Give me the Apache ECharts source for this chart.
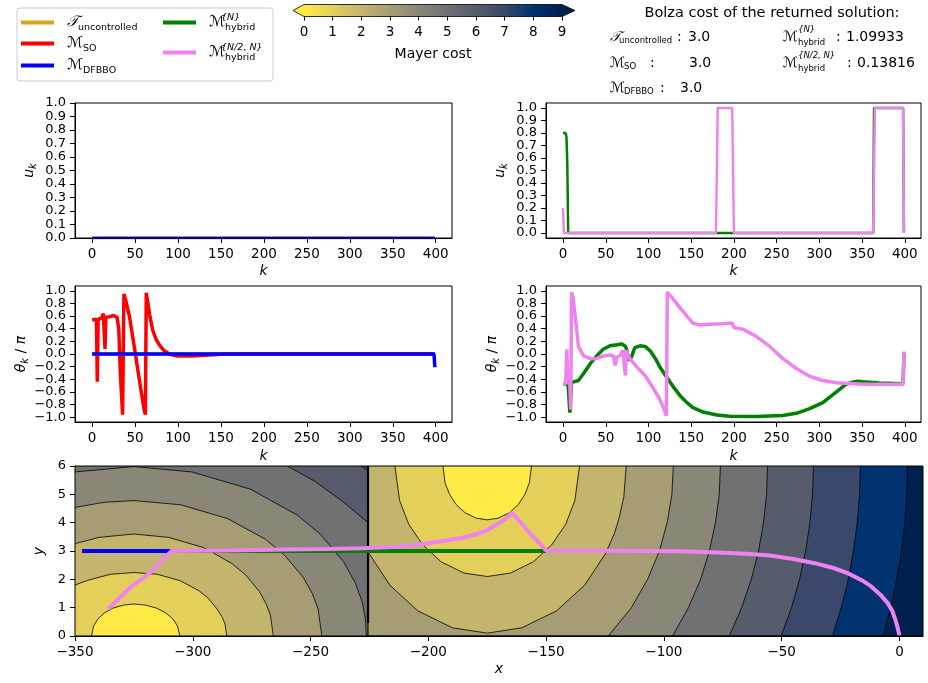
<!DOCTYPE html>
<html><head><meta charset="utf-8">
<script src="https://cdn.jsdelivr.net/npm/echarts@6/dist/echarts.min.js"></script>
<style>html,body{margin:0;padding:0;background:#fff}#c{width:928px;height:683px}</style>
</head><body><div id="c"></div>
<script>
// ---------------- data ----------------
const kTicks = [0, 50, 100, 150, 200, 250, 300, 350, 400];
const uTicks = [0, 0.1, 0.2, 0.3, 0.4, 0.5, 0.6, 0.7, 0.8, 0.9, 1.0];
const thetaTicks = [-1, -0.8, -0.6, -0.4, -0.2, 0, 0.2, 0.4, 0.6, 0.8, 1.0];
const xTicks = [-350, -300, -250, -200, -150, -100, -50, 0];
const yTicks = [0, 1, 2, 3, 4, 5, 6];
const costTicks = [0, 1, 2, 3, 4, 5, 6, 7, 8, 9];
const costColors = ['#FFEA46','#E4CF5B','#C4B56C','#A69D75','#8A8779','#707173','#575C6D','#39486B','#00336F','#00204D'];

const seriesNames = ['Tunc', 'SO', 'DFBBO', 'hybN', 'hybN2N'];
const bolzaValues = ['3.0', '3.0', '3.0', '1.09933', '0.13816'];

// control u_k
const uUncontrolled = [[0,0],[399,0]];
const uSO = [[0,0],[399,0]];
const uDFBBO = [[0,0],[399,0]];
const uHybN = [[0,0.8],[3,0.8],[4,0.77],[5,0.55],[6,0],[363,0],[364,1],[398,1],[399,0]];
const uHybN2N = [[0,0.2],[1,0],[179,0],[181,1],[198,1],[200,0],[363,0],[365,1],[398,1],[399,0]];

// heading theta_k / pi
const thetaUnc = [[0,0],[399,0]];
const thetaSO = [[0,0.54],[5,0.55],[6,-0.44],[7,0.55],[11,0.57],[13,0.64],[15,0.08],[16,0.58],[20,0.59],[25,0.61],[29,0.58],[31,0.4],[33,-0.35],[35.5,-0.96],[37,0.95],[39.5,0.83],[43.5,0.59],[49,0.12],[55,-0.41],[60.5,-0.88],[62,-0.96],[63,0.97],[65,0.8],[67,0.62],[70.5,0.38],[74.5,0.23],[78.5,0.14],[84,0.05],[90,0],[97.5,-0.03],[117,-0.03],[136,-0.015],[156,0],[399,0]];
const thetaDFBBO = [[0,0],[398,0],[399,-0.21]];
const thetaHybN = [[0,-0.47],[3,-0.47],[6,-0.5],[8,-0.93],[9,-0.9],[10,-0.45],[12,-0.43],[18,-0.42],[24,-0.31],[32,-0.15],[40,-0.02],[47,0.075],[55,0.13],[63,0.145],[69,0.16],[71,0.15],[73,0.12],[75,0.05],[76,-0.1],[78,-0.1],[80,-0.05],[82,-0.03],[84,0.1],[86,0.13],[90,0.13],[96,0.12],[102,0.05],[108,-0.07],[113.5,-0.21],[121,-0.36],[129,-0.52],[137,-0.66],[145,-0.77],[152,-0.85],[164,-0.92],[180,-0.965],[195,-0.985],[226,-0.99],[257,-0.975],[273,-0.94],[288,-0.87],[304,-0.77],[320,-0.6],[331,-0.48],[339,-0.445],[345,-0.43],[351,-0.44],[370,-0.46],[398,-0.47],[399,0.01]];
const thetaHybN2N = [[0,-0.47],[3,-0.47],[4.5,0.07],[5.5,-0.45],[8,-0.47],[9,-0.88],[10,0.98],[12,0.87],[15,0.5],[18,0.12],[24,-0.03],[32,-0.075],[40,-0.07],[47,-0.03],[55,-0.016],[59,-0.03],[61,-0.18],[63,-0.05],[65,-0.07],[67,-0.02],[70,0.06],[72,0.06],[73,-0.34],[74,0.06],[76,0],[78,-0.07],[86,-0.2],[96,-0.34],[105,-0.53],[113,-0.71],[119,-0.9],[121,-0.98],[122,0.98],[129,0.87],[137,0.73],[145,0.6],[152,0.49],[160,0.46],[172,0.47],[187,0.48],[198,0.49],[200,0.42],[211,0.39],[226,0.28],[242,0.12],[257,-0.07],[273,-0.23],[288,-0.35],[304,-0.42],[320,-0.455],[351,-0.48],[398,-0.48],[399,0.04]];

// trajectories in the (x, y) plane
const trajDFBBO = [[-347,3],[-309,3]];
const trajHybN = [[-309,3],[-150,3]];
const trajHybN2N = [[-336,0.95],[-331,1.35],[-326,1.75],[-321,2.05],[-318,2.25],[-314,2.6],[-309,3.0],[-285,3.02],[-260,3.05],[-243,3.07],[-228,3.1],[-215,3.14],[-207,3.2],[-200,3.27],[-193,3.36],[-186,3.46],[-180,3.58],[-175,3.74],[-170,3.98],[-167,4.15],[-164.5,4.35],[-160.5,3.98],[-157,3.64],[-153,3.3],[-150,3.02],[-121,3.01],[-93,2.99],[-80,2.96],[-65,2.9],[-55,2.84],[-45,2.72],[-36,2.57],[-28,2.4],[-22,2.22],[-16,1.97],[-12,1.75],[-8,1.45],[-5,1.16],[-3,0.88],[-1.7,0.57],[-0.8,0.3],[0,0.02]];

// Mayer-cost contour boundaries, left part (levels 1..7)
const contourL1 = [[-343,0],[-342.1,0.35],[-340.3,0.6],[-337.6,0.81],[-334,0.98],[-329.5,1.09],[-325,1.13],[-320.1,1.09],[-315.3,0.98],[-311.4,0.81],[-308.4,0.6],[-306.5,0.35],[-305.5,0]];
const contourL2 = [[-350,1.8],[-344.8,1.96],[-334.9,2.18],[-325,2.24],[-315.1,2.18],[-305.3,1.95],[-297.4,1.6],[-293.4,1.33],[-289.5,0.93],[-287.5,0.66],[-286.3,0.42],[-285.6,0]];
const contourL3 = [[-350,3.26],[-339.8,3.48],[-325,3.6],[-310.2,3.48],[-295.4,3.12],[-283.6,2.57],[-277.6,2.16],[-271.7,1.57],[-268.8,1.12],[-267,0.72],[-265.8,0]];
const contourL4 = [[-350,4.54],[-337.5,4.72],[-325,4.78],[-305,4.63],[-285.1,4.14],[-269.1,3.41],[-261.2,2.87],[-253.2,2.08],[-249.2,1.49],[-246.8,0.95],[-245.2,0]];
const contourL5 = [[-350,5.79],[-325,5.98],[-300.3,5.79],[-275.5,5.18],[-255.7,4.27],[-245.8,3.59],[-235.9,2.61],[-231,1.87],[-228,1.19],[-226.7,0.6],[-226.3,0]];
const contourL6 = [[-350,7.04],[-325,7.2],[-289.6,6.87],[-271.9,6.43],[-260.1,6.01],[-248.3,5.47],[-236.5,4.76],[-230.6,4.35],[-225.6,4.0]];
const contourL7 = [[-350,8.26],[-325,8.4],[-275,7.83],[-250,7.05],[-235,6.37],[-228.4,6.0],[-225.6,5.83]];
// right part (levels 1..9)
const contourR1 = [[-193.8,6],[-192.9,5.41],[-191,5.0],[-188.2,4.64],[-184.4,4.35],[-179.7,4.16],[-175,4.1],[-170.3,4.16],[-165.6,4.35],[-161.8,4.64],[-159,5.0],[-157.1,5.41],[-156.2,6]];
const contourR2 = [[-214.2,6],[-212.2,4.78],[-208.3,3.94],[-202.4,3.22],[-194.6,2.62],[-184.8,2.22],[-175,2.1],[-165.2,2.22],[-155.4,2.62],[-147.6,3.22],[-141.7,3.94],[-137.8,4.78],[-135.8,6]];
const contourR3 = [[-225.6,2.97],[-216.3,1.79],[-204.5,0.89],[-189.8,0.29],[-175,0.1],[-160.3,0.29],[-145.5,0.89],[-133.7,1.79],[-124.9,2.89],[-121,3.62],[-119,4.16],[-117,4.92],[-116,6]];
const contourR4 = [[-225.6,0],[-123.6,0],[-113.8,1],[-106.9,2],[-101.9,3],[-98.6,4],[-96.6,5],[-96,6]];
const contourR5 = [[-225.6,0],[-96.3,0],[-89.6,1],[-84.4,2],[-80.7,3],[-78.1,4],[-76.5,5],[-76,6]];
const contourR6 = [[-225.6,0],[-72.2,0],[-67,1],[-62.9,2],[-59.8,3],[-57.7,4],[-56.4,5],[-56,6]];
const contourR7 = [[-225.6,0],[-50.2,0],[-45.8,1],[-42.4,2],[-39.8,3],[-38,4],[-36.9,5],[-36.5,6]];
const contourR8 = [[-225.6,0],[-28.4,0],[-24.7,1],[-21.7,2],[-19.5,3],[-17.9,4],[-16.9,5],[-16.6,6]];
const contourR9 = [[-225.6,0],[-7,0],[-3.7,1],[-1.1,2],[0.9,3],[2.3,4],[3.1,5],[3.4,6]];
const regionLeft = [[-350,6],[-225.6,6]];
const regionRight = [[-225.6,6],[10,6]];
const jumpThick = [[-225.6,0.45],[-225.6,6]];
const jumpThin = [[-225.6,0],[-225.6,0.45]];

// drawing order of the filled contour bands: [boundary, colour index, side filled, outline]
const bandList = [
  [regionLeft, 7, 'below', false], [contourL7, 6, 'below', true], [contourL6, 5, 'below', true],
  [contourL5, 4, 'below', true], [contourL4, 3, 'below', true], [contourL3, 2, 'below', true],
  [contourL2, 1, 'below', true], [contourL1, 0, 'below', true],
  [regionRight, 9, 'below', false], [contourR9, 8, 'above', true], [contourR8, 7, 'above', true],
  [contourR7, 6, 'above', true], [contourR6, 5, 'above', true], [contourR5, 4, 'above', true],
  [contourR4, 3, 'above', true], [contourR3, 2, 'above', true], [contourR2, 1, 'above', true],
  [contourR1, 0, 'above', true]
];

// ---------------- helpers ----------------
const FONT = 'DejaVu Sans';
const COL = {Tunc:'#DAA520', SO:'#FF0000', DFBBO:'#0000FF', hybN:'#008000', hybN2N:'#EE82EE'};
const fmt1 = v => (v < -1e-9 ? '\u2212' : '') + Math.abs(v).toFixed(1);
const fmtInt = v => (v < 0 ? '\u2212' : '') + Math.abs(v);
const evenOf = a => a.filter((v, i) => i % 2 === 0);
const oddOf = a => a.filter((v, i) => i % 2 === 1);

function xAxisDef(gi, min, max, ticks, fmt, name, gap) {
  return {type:'value', gridIndex:gi, min, max, position:'bottom',
    axisLine:{show:true, onZero:false, lineStyle:{color:'#000', width:1}},
    axisTick:{show:true, length:5, lineStyle:{color:'#000', width:1}, customValues:ticks},
    axisLabel:{customValues:ticks, formatter:fmt, margin:9, showMinLabel:true, showMaxLabel:true, hideOverlap:false,
      fontSize:13.5, color:'#000', fontFamily:FONT},
    splitLine:{show:false},
    name, nameLocation:'middle', nameGap:gap,
    nameTextStyle:{fontStyle:'italic', fontSize:14, fontFamily:FONT, color:'#000'}};
}
// main y axis: line, all ticks, every other label, name
function yAxisDef(gi, min, max, ticks, labels, fmt, name, gap, rich) {
  return {type:'value', gridIndex:gi, min, max, position:'left',
    axisLine:{show:true, onZero:false, lineStyle:{color:'#000', width:1}},
    axisTick:{show:true, length:5, lineStyle:{color:'#000', width:1}, customValues:ticks},
    axisLabel:{customValues:labels, formatter:fmt, margin:9, showMinLabel:true, showMaxLabel:true, hideOverlap:false,
      fontSize:13, color:'#000', fontFamily:FONT},
    splitLine:{show:false},
    name, nameLocation:'middle', nameGap:gap, nameRotate:90,
    nameTextStyle:{fontSize:14, fontFamily:FONT, color:'#000', rich}};
}
// companion y axis carrying the remaining labels only
function yLabelAxis(gi, min, max, labels, fmt) {
  return {type:'value', gridIndex:gi, min, max, position:'left', offset:0,
    axisLine:{show:false, onZero:false}, axisTick:{show:false}, splitLine:{show:false},
    axisLabel:{customValues:labels, formatter:fmt, margin:9, showMinLabel:true, showMaxLabel:true, hideOverlap:false,
      fontSize:13, color:'#000', fontFamily:FONT}};
}
const subRich = {
  i:{fontStyle:'italic', fontSize:14, fontFamily:FONT, color:'#000', lineHeight:18},
  s:{fontStyle:'italic', fontSize:10, fontFamily:FONT, color:'#000', lineHeight:12, verticalAlign:'bottom'},
  n:{fontSize:14, fontFamily:FONT, color:'#000', lineHeight:18}
};

function traj(name, gi, data, width) {
  return {type:'line', name, xAxisIndex:gi, yAxisIndex:gi, data, symbol:'none', showSymbol:false,
    lineStyle:{color:COL[name], width}, itemStyle:{color:COL[name]}, animation:false, silent:true, z:3};
}
function plain(data, width) {
  return {type:'line', xAxisIndex:4, yAxisIndex:4, data, symbol:'none', showSymbol:false,
    lineStyle:{color:'#000', width}, animation:false, silent:true, z:2};
}

const grids = [
  {left:75, top:103, width:377, height:135},
  {left:546, top:103, width:375, height:135},
  {left:75, top:286, width:377, height:136},
  {left:546, top:286, width:375, height:136},
  {left:75, top:466, width:848, height:170},
  {left:304, top:4.5, width:258, height:12}
].map((g, i) => Object.assign({show: i < 5, borderColor:'#000', borderWidth:1, backgroundColor:'transparent', z:10, outerBoundsMode:'none', containLabel:false}, g));

const xAxes = [
  xAxisDef(0, -19.95, 418.95, kTicks, v => String(v), 'k', 26),
  xAxisDef(1, -19.95, 418.95, kTicks, v => String(v), 'k', 26),
  xAxisDef(2, -19.95, 418.95, kTicks, v => String(v), 'k', 27),
  xAxisDef(3, -19.95, 418.95, kTicks, v => String(v), 'k', 27),
  xAxisDef(4, -350, 10, xTicks, fmtInt, 'x', 26),
  Object.assign(xAxisDef(5, costTicks[0], costTicks[costTicks.length-1], costTicks, v => String(v), 'Mayer cost', 31),
    {axisLine:{show:false, onZero:false}, axisTick:{show:true, length:4, lineStyle:{color:'#000', width:1}, customValues:costTicks},
     nameTextStyle:{fontSize:14, fontFamily:FONT, color:'#000'}})
];
const yAxes = [
  yAxisDef(0, 0, 1, uTicks, evenOf(uTicks), fmt1, '{i|u}{s|k}', 37, subRich),
  yAxisDef(1, -0.04, 1.04, uTicks, evenOf(uTicks), fmt1, '{i|u}{s|k}', 37, subRich),
  yAxisDef(2, -1.077, 1.077, thetaTicks, evenOf(thetaTicks), fmt1, '{i|θ}{s|k}{n| / }{i|π}', 45, subRich),
  yAxisDef(3, -1.077, 1.077, thetaTicks, evenOf(thetaTicks), fmt1, '{i|θ}{s|k}{n| / }{i|π}', 45, subRich),
  Object.assign(yAxisDef(4, 0, 6, yTicks, yTicks, fmtInt, 'y', 24, subRich), {nameTextStyle:{fontStyle:'italic', fontSize:14, fontFamily:FONT, color:'#000'}}),
  {type:'value', gridIndex:5, min:0, max:1, show:false},
  yLabelAxis(0, 0, 1, oddOf(uTicks), fmt1),
  yLabelAxis(1, -0.04, 1.04, oddOf(uTicks), fmt1),
  yLabelAxis(2, -1.077, 1.077, oddOf(thetaTicks), fmt1),
  yLabelAxis(3, -1.077, 1.077, oddOf(thetaTicks), fmt1)
];

const contourSeries = {
  type:'custom', xAxisIndex:4, yAxisIndex:4, clip:true, silent:true, animation:false, z:1,
  data: bandList.map((b, i) => [-300, 3, i]),
  renderItem: (params, api) => {
    const b = bandList[api.value(2)];
    const pts = b[0];
    const baseY = b[2] === 'below' ? yTicks[0] : yTicks[yTicks.length - 1];
    const line = pts.map(p => api.coord(p));
    const poly = line.concat([api.coord([pts[pts.length - 1][0], baseY]), api.coord([pts[0][0], baseY])]);
    const children = [{type:'polygon', shape:{points:poly}, style:{fill:costColors[b[1]], stroke:costColors[b[1]], lineWidth:0.3}}];
    if (b[3]) children.push({type:'polyline', shape:{points:line}, style:{fill:null, stroke:'#000', lineWidth:0.8}});
    return {type:'group', children};
  }
};

const series = [
  traj('Tunc', 0, uUncontrolled, 2.5), traj('SO', 0, uSO, 2.5), traj('DFBBO', 0, uDFBBO, 2.5),
  traj('hybN', 1, uHybN, 2.5), traj('hybN2N', 1, uHybN2N, 2.5),
  traj('Tunc', 2, thetaUnc, 3.5), traj('SO', 2, thetaSO, 3.5), traj('DFBBO', 2, thetaDFBBO, 3.5),
  traj('hybN', 3, thetaHybN, 3.5), traj('hybN2N', 3, thetaHybN2N, 3.5),
  contourSeries,
  plain(jumpThick, 2.2), plain(jumpThin, 1),
  traj('DFBBO', 4, trajDFBBO, 4), traj('hybN', 4, trajHybN, 4), traj('hybN2N', 4, trajHybN2N, 4),
  // colour bar
  {type:'custom', xAxisIndex:5, yAxisIndex:5, data:[[costTicks[0], costTicks[costTicks.length-1]]], silent:true, animation:false, clip:false,
   renderItem:(params, api) => {
     const p0 = api.coord([api.value(0), 1]), p1 = api.coord([api.value(1), 0]);
     const x0 = p0[0], y0 = p0[1], x1 = p1[0], y1 = p1[1], ym = (y0 + y1) / 2;
     const stops = costColors.map((c, i) => ({offset: i / (costColors.length - 1), color: c}));
     return {type:'group', children:[
       {type:'rect', shape:{x:x0, y:y0, width:x1 - x0, height:y1 - y0}, style:{fill:new echarts.graphic.LinearGradient(0, 0, 1, 0, stops)}},
       {type:'polygon', shape:{points:[[x0, y0], [x0 - 11, ym], [x0, y1]]}, style:{fill:costColors[0]}},
       {type:'polygon', shape:{points:[[x1, y0], [x1 + 13, ym], [x1, y1]]}, style:{fill:costColors[costColors.length - 1]}},
       {type:'polygon', shape:{points:[[x0, y0], [x1, y0], [x1 + 13, ym], [x1, y1], [x0, y1], [x0 - 11, ym]]}, style:{fill:null, stroke:'#000', lineWidth:0.8}}
     ]};
   }}
];

const legendLabel = {
  Tunc:'{T|𝒯}{sub|uncontrolled}', SO:'{M|ℳ}{sub|SO}', DFBBO:'{M|ℳ}{sub|DFBBO}',
  hybN:'{M|ℳ}{sub|hybrid}', hybN2N:'{M|ℳ}{sub|hybrid}'
};
const legendRich = {
  T:{fontSize:15, fontFamily:FONT, fontStyle:'italic', color:'#000', lineHeight:20, padding:[0,0,0,8]},
  M:{fontSize:15, fontFamily:FONT, color:'#000', lineHeight:20, padding:[0,0,0,8]},
  sub:{fontSize:9.5, fontFamily:FONT, color:'#000', lineHeight:12, verticalAlign:'bottom'}
};
function legendDef(left, top, name) {
  return {left, top, orient:'vertical', padding:0, itemGap:0, itemWidth:33, itemHeight:4, icon:'rect',
    selectedMode:false, data:[name], formatter:n => legendLabel[n],
    itemStyle:{borderWidth:0}, textStyle:{fontSize:13, fontFamily:FONT, color:'#000', rich:legendRich}};
}

function txt(text, x, y, size, opts) {
  const o = opts || {};
  return {type:'text', x, y, silent:true, z:20,
    style:{text, fontSize:size, fontFamily:FONT, fontStyle:o.italic ? 'italic' : 'normal', fill:'#000',
      align:o.align || 'left', verticalAlign:'middle', textAlign:o.align || 'left', textVerticalAlign:'middle'}};
}
const graphics = [
  {type:'rect', shape:{x:17, y:8, width:256, height:73, r:3}, style:{fill:'rgba(255,255,255,0.8)', stroke:'#cccccc', lineWidth:1}, z:-1, silent:true},
  txt('{N}', 221, 18, 9.5, {italic:true}),
  txt('{N/2, N}', 221, 48, 9.5, {italic:true}),
  txt('Bolza cost of the returned solution:', 772, 13, 14.5, {align:'center'}),
  txt('𝒯', 610, 37, 14, {italic:true}), txt('uncontrolled', 619, 41, 8.5), txt(':', 677, 37, 14), txt(bolzaValues[0], 688, 37, 14),
  txt('ℳ', 610, 63, 14), txt('SO', 624, 67, 8.5), txt(':', 650, 63, 14), txt(bolzaValues[1], 689, 63, 14),
  txt('ℳ', 610, 88, 14), txt('DFBBO', 624, 92, 8.5), txt(':', 660, 88, 14), txt(bolzaValues[2], 680, 88, 14),
  txt('ℳ', 783, 37, 14), txt('{N}', 798, 30, 8.5, {italic:true}), txt('hybrid', 798, 43, 8.5), txt(':', 836, 37, 14), txt(bolzaValues[3], 846, 37, 14),
  txt('ℳ', 783, 63, 14), txt('{N/2, N}', 798, 56, 8.5, {italic:true}), txt('hybrid', 798, 69, 8.5), txt(':', 847, 63, 14), txt(bolzaValues[4], 857, 63, 14)
];

const chart = echarts.init(document.getElementById('c'), null, {renderer:'canvas'});
chart.setOption({
  animation:false,
  backgroundColor:'#fff',
  grid:grids, xAxis:xAxes, yAxis:yAxes, series,
  legend:[legendDef(21, 15, 'Tunc'), legendDef(21, 36, 'SO'), legendDef(21, 58, 'DFBBO'),
          legendDef(163, 15, 'hybN'), legendDef(163, 45, 'hybN2N')],
  graphic:graphics
});
</script></body></html>
